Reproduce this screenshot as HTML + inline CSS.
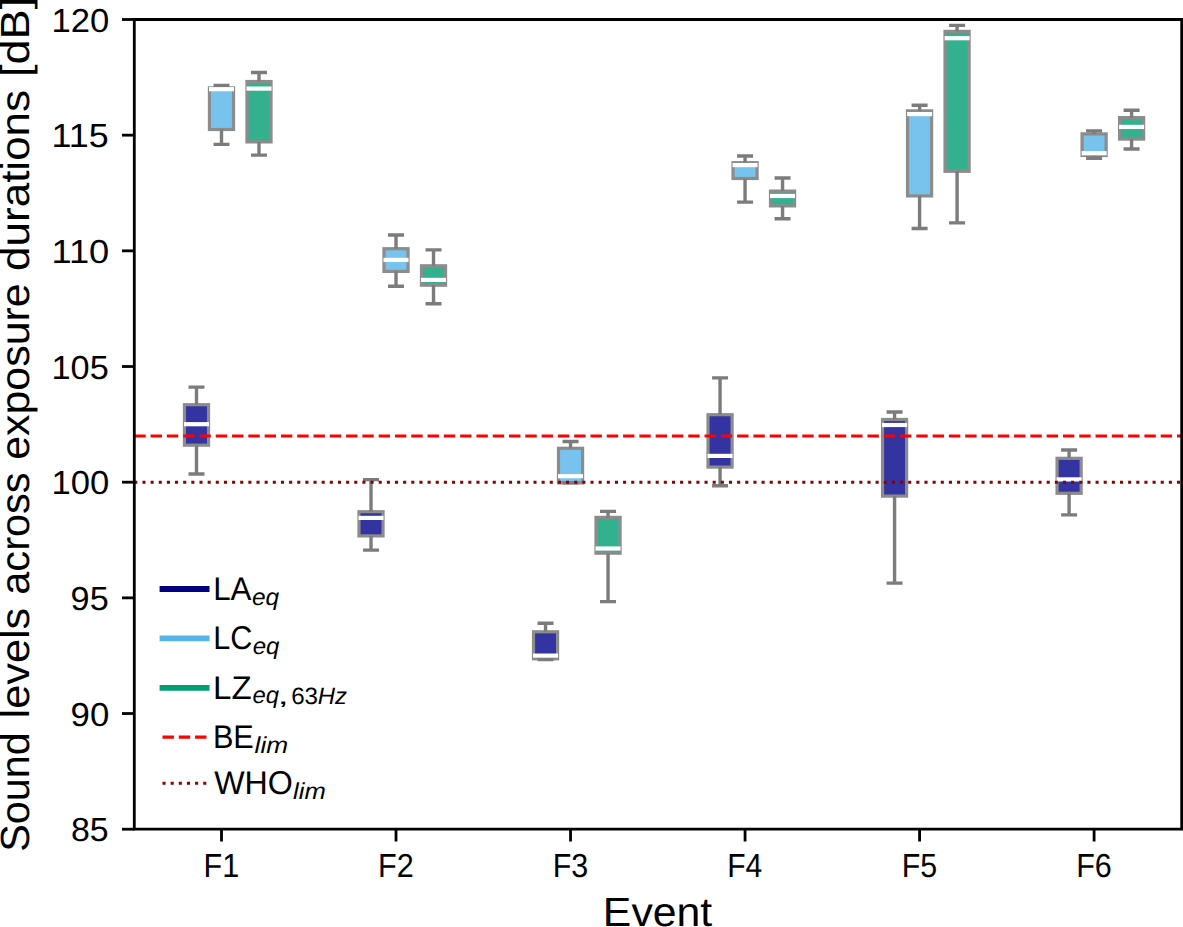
<!DOCTYPE html>
<html><head><meta charset="utf-8"><style>
html,body{margin:0;padding:0;background:#fff;width:1183px;height:927px;overflow:hidden}
svg{display:block}
text{font-family:"Liberation Sans", sans-serif;text-rendering:geometricPrecision}
</style></head><body>
<svg width="1183" height="927" viewBox="0 0 1183 927">
<rect width="1183" height="927" fill="#fff"/>
<rect x="184.45" y="404.7" width="24.1" height="40.5" fill="#3333a2" stroke="#8c8c8c" stroke-width="3.2"/>
<path d="M196.5 404.7V387.1M196.5 445.2V474" stroke="#7c7c7c" stroke-width="3.4" fill="none"/>
<path d="M188.5 387.1H204.5M188.5 474H204.5" stroke="#7c7c7c" stroke-width="3.4" fill="none"/>
<rect x="184" y="422.1" width="25" height="4.2" fill="#fff"/>
<rect x="209.45" y="87.9" width="24.1" height="41.6" fill="#78c3ed" stroke="#8c8c8c" stroke-width="3.2"/>
<path d="M221.5 87.9V85.5M221.5 129.5V144.4" stroke="#7c7c7c" stroke-width="3.4" fill="none"/>
<path d="M213.5 85.5H229.5M213.5 144.4H229.5" stroke="#7c7c7c" stroke-width="3.4" fill="none"/>
<rect x="209" y="87.1" width="25" height="4.2" fill="#fff"/>
<rect x="246.95" y="81.5" width="24.1" height="60.4" fill="#33b18f" stroke="#8c8c8c" stroke-width="3.2"/>
<path d="M259 81.5V72.5M259 141.9V155.1" stroke="#7c7c7c" stroke-width="3.4" fill="none"/>
<path d="M251 72.5H267M251 155.1H267" stroke="#7c7c7c" stroke-width="3.4" fill="none"/>
<rect x="246.5" y="86.5" width="25" height="4.2" fill="#fff"/>
<rect x="358.97" y="511.7" width="24.1" height="24.2" fill="#3333a2" stroke="#8c8c8c" stroke-width="3.2"/>
<path d="M371.02 511.7V479.6M371.02 535.9V550.1" stroke="#7c7c7c" stroke-width="3.4" fill="none"/>
<path d="M363.02 479.6H379.02M363.02 550.1H379.02" stroke="#7c7c7c" stroke-width="3.4" fill="none"/>
<rect x="358.52" y="515.8" width="25" height="4.2" fill="#fff"/>
<rect x="383.97" y="248.7" width="24.1" height="22.7" fill="#78c3ed" stroke="#8c8c8c" stroke-width="3.2"/>
<path d="M396.02 248.7V235M396.02 271.4V286.2" stroke="#7c7c7c" stroke-width="3.4" fill="none"/>
<path d="M388.02 235H404.02M388.02 286.2H404.02" stroke="#7c7c7c" stroke-width="3.4" fill="none"/>
<rect x="383.52" y="257.8" width="25" height="4.2" fill="#fff"/>
<rect x="421.47" y="265.8" width="24.1" height="19.4" fill="#33b18f" stroke="#8c8c8c" stroke-width="3.2"/>
<path d="M433.52 265.8V249.9M433.52 285.2V303.7" stroke="#7c7c7c" stroke-width="3.4" fill="none"/>
<path d="M425.52 249.9H441.52M425.52 303.7H441.52" stroke="#7c7c7c" stroke-width="3.4" fill="none"/>
<rect x="421.02" y="277.8" width="25" height="4.2" fill="#fff"/>
<rect x="533.49" y="631.8" width="24.1" height="27" fill="#3333a2" stroke="#8c8c8c" stroke-width="3.2"/>
<path d="M545.54 631.8V623.2M545.54 658.8V659.5" stroke="#7c7c7c" stroke-width="3.4" fill="none"/>
<path d="M537.54 623.2H553.54M537.54 659.5H553.54" stroke="#7c7c7c" stroke-width="3.4" fill="none"/>
<rect x="533.04" y="653.5" width="25" height="4.2" fill="#fff"/>
<rect x="558.49" y="448.3" width="24.1" height="34.6" fill="#78c3ed" stroke="#8c8c8c" stroke-width="3.2"/>
<path d="M570.54 448.3V441.5M570.54 482.9V482.9" stroke="#7c7c7c" stroke-width="3.4" fill="none"/>
<path d="M562.54 441.5H578.54M562.54 482.9H578.54" stroke="#7c7c7c" stroke-width="3.4" fill="none"/>
<rect x="558.04" y="474.1" width="25" height="4.2" fill="#fff"/>
<rect x="595.99" y="517.4" width="24.1" height="35.8" fill="#33b18f" stroke="#8c8c8c" stroke-width="3.2"/>
<path d="M608.04 517.4V511.4M608.04 553.2V601.6" stroke="#7c7c7c" stroke-width="3.4" fill="none"/>
<path d="M600.04 511.4H616.04M600.04 601.6H616.04" stroke="#7c7c7c" stroke-width="3.4" fill="none"/>
<rect x="595.54" y="546.4" width="25" height="4.2" fill="#fff"/>
<rect x="708.01" y="414.7" width="24.1" height="52.4" fill="#3333a2" stroke="#8c8c8c" stroke-width="3.2"/>
<path d="M720.06 414.7V377.9M720.06 467.1V485.7" stroke="#7c7c7c" stroke-width="3.4" fill="none"/>
<path d="M712.06 377.9H728.06M712.06 485.7H728.06" stroke="#7c7c7c" stroke-width="3.4" fill="none"/>
<rect x="707.56" y="453.8" width="25" height="4.2" fill="#fff"/>
<rect x="733.01" y="162.7" width="24.1" height="15.8" fill="#78c3ed" stroke="#8c8c8c" stroke-width="3.2"/>
<path d="M745.06 162.7V156M745.06 178.5V202.1" stroke="#7c7c7c" stroke-width="3.4" fill="none"/>
<path d="M737.06 156H753.06M737.06 202.1H753.06" stroke="#7c7c7c" stroke-width="3.4" fill="none"/>
<rect x="732.56" y="163" width="25" height="4.2" fill="#fff"/>
<rect x="770.51" y="191.1" width="24.1" height="14.8" fill="#33b18f" stroke="#8c8c8c" stroke-width="3.2"/>
<path d="M782.56 191.1V178M782.56 205.9V218.8" stroke="#7c7c7c" stroke-width="3.4" fill="none"/>
<path d="M774.56 178H790.56M774.56 218.8H790.56" stroke="#7c7c7c" stroke-width="3.4" fill="none"/>
<rect x="770.06" y="193.9" width="25" height="4.2" fill="#fff"/>
<rect x="882.53" y="419.5" width="24.1" height="76.6" fill="#3333a2" stroke="#8c8c8c" stroke-width="3.2"/>
<path d="M894.58 419.5V412M894.58 496.1V583.1" stroke="#7c7c7c" stroke-width="3.4" fill="none"/>
<path d="M886.58 412H902.58M886.58 583.1H902.58" stroke="#7c7c7c" stroke-width="3.4" fill="none"/>
<rect x="882.08" y="422.9" width="25" height="4.2" fill="#fff"/>
<rect x="907.53" y="110.9" width="24.1" height="85" fill="#78c3ed" stroke="#8c8c8c" stroke-width="3.2"/>
<path d="M919.58 110.9V105.2M919.58 195.9V228.5" stroke="#7c7c7c" stroke-width="3.4" fill="none"/>
<path d="M911.58 105.2H927.58M911.58 228.5H927.58" stroke="#7c7c7c" stroke-width="3.4" fill="none"/>
<rect x="907.08" y="112" width="25" height="4.2" fill="#fff"/>
<rect x="945.03" y="31.4" width="24.1" height="139.9" fill="#33b18f" stroke="#8c8c8c" stroke-width="3.2"/>
<path d="M957.08 31.4V25.4M957.08 171.3V222.9" stroke="#7c7c7c" stroke-width="3.4" fill="none"/>
<path d="M949.08 25.4H965.08M949.08 222.9H965.08" stroke="#7c7c7c" stroke-width="3.4" fill="none"/>
<rect x="944.58" y="36.1" width="25" height="4.2" fill="#fff"/>
<rect x="1057.05" y="458.3" width="24.1" height="35" fill="#3333a2" stroke="#8c8c8c" stroke-width="3.2"/>
<path d="M1069.1 458.3V450M1069.1 493.3V514.9" stroke="#7c7c7c" stroke-width="3.4" fill="none"/>
<path d="M1061.1 450H1077.1M1061.1 514.9H1077.1" stroke="#7c7c7c" stroke-width="3.4" fill="none"/>
<rect x="1056.6" y="477.3" width="25" height="4.2" fill="#fff"/>
<rect x="1082.05" y="133.9" width="24.1" height="21.6" fill="#78c3ed" stroke="#8c8c8c" stroke-width="3.2"/>
<path d="M1094.1 133.9V130.9M1094.1 155.5V158.3" stroke="#7c7c7c" stroke-width="3.4" fill="none"/>
<path d="M1086.1 130.9H1102.1M1086.1 158.3H1102.1" stroke="#7c7c7c" stroke-width="3.4" fill="none"/>
<rect x="1081.6" y="151.1" width="25" height="4.2" fill="#fff"/>
<rect x="1119.55" y="117.6" width="24.1" height="21.5" fill="#33b18f" stroke="#8c8c8c" stroke-width="3.2"/>
<path d="M1131.6 117.6V110.2M1131.6 139.1V149" stroke="#7c7c7c" stroke-width="3.4" fill="none"/>
<path d="M1123.6 110.2H1139.6M1123.6 149H1139.6" stroke="#7c7c7c" stroke-width="3.4" fill="none"/>
<rect x="1119.1" y="124.8" width="25" height="4.2" fill="#fff"/>
<path d="M134.3 435.92H1181.7" stroke="#ff0000" stroke-width="3.074" stroke-dasharray="11.3738 4.9184" fill="none"/>
<path d="M134.3 482.19H1181.7" stroke="#8b0000" stroke-width="3.074" stroke-dasharray="3.0740 5.0721" fill="none"/>
<path d="M134.3 829.2V19.5M132.9 829.2H1183.1M132.9 19.5H1183.1M1181.7 829.2V19.5" stroke="#000" stroke-width="2.8" fill="none"/>
<path d="M122 829.2H134.3" stroke="#000" stroke-width="2.8"/>
<path d="M122 713.53H134.3" stroke="#000" stroke-width="2.8"/>
<path d="M122 597.86H134.3" stroke="#000" stroke-width="2.8"/>
<path d="M122 482.19H134.3" stroke="#000" stroke-width="2.8"/>
<path d="M122 366.51H134.3" stroke="#000" stroke-width="2.8"/>
<path d="M122 250.84H134.3" stroke="#000" stroke-width="2.8"/>
<path d="M122 135.17H134.3" stroke="#000" stroke-width="2.8"/>
<path d="M122 19.5H134.3" stroke="#000" stroke-width="2.8"/>
<path d="M221.5 829.2V841.5" stroke="#000" stroke-width="2.8"/>
<path d="M396.02 829.2V841.5" stroke="#000" stroke-width="2.8"/>
<path d="M570.54 829.2V841.5" stroke="#000" stroke-width="2.8"/>
<path d="M745.06 829.2V841.5" stroke="#000" stroke-width="2.8"/>
<path d="M919.58 829.2V841.5" stroke="#000" stroke-width="2.8"/>
<path d="M1094.1 829.2V841.5" stroke="#000" stroke-width="2.8"/>
<text x="71.03" y="841.2" font-size="33.3" textLength="37.7" lengthAdjust="spacingAndGlyphs" style="" fill="#000" >85</text>
<text x="70.57" y="725.53" font-size="33.3" textLength="38.69" lengthAdjust="spacingAndGlyphs" style="" fill="#000" >90</text>
<text x="70.59" y="609.86" font-size="33.3" textLength="38.15" lengthAdjust="spacingAndGlyphs" style="" fill="#000" >95</text>
<text x="51.46" y="494.19" font-size="33.3" textLength="57.79" lengthAdjust="spacingAndGlyphs" style="" fill="#000" >100</text>
<text x="51.49" y="378.51" font-size="33.3" textLength="57.25" lengthAdjust="spacingAndGlyphs" style="" fill="#000" >105</text>
<text x="51.46" y="262.84" font-size="33.3" textLength="57.79" lengthAdjust="spacingAndGlyphs" style="" fill="#000" >110</text>
<text x="51.49" y="147.17" font-size="33.3" textLength="57.25" lengthAdjust="spacingAndGlyphs" style="" fill="#000" >115</text>
<text x="51.46" y="31.5" font-size="33.3" textLength="57.79" lengthAdjust="spacingAndGlyphs" style="" fill="#000" >120</text>
<text x="203.59" y="876.8" font-size="33.3" textLength="35.7" lengthAdjust="spacingAndGlyphs" style="" fill="#000" >F1</text>
<text x="378.11" y="876.8" font-size="33.3" textLength="35.75" lengthAdjust="spacingAndGlyphs" style="" fill="#000" >F2</text>
<text x="552.64" y="876.8" font-size="33.3" textLength="35.54" lengthAdjust="spacingAndGlyphs" style="" fill="#000" >F3</text>
<text x="727.2" y="876.8" font-size="33.3" textLength="35.04" lengthAdjust="spacingAndGlyphs" style="" fill="#000" >F4</text>
<text x="901.69" y="876.8" font-size="33.3" textLength="35.47" lengthAdjust="spacingAndGlyphs" style="" fill="#000" >F5</text>
<text x="1076.2" y="876.8" font-size="33.3" textLength="35.54" lengthAdjust="spacingAndGlyphs" style="" fill="#000" >F6</text>
<text x="602.89" y="926.4" font-size="40.8" textLength="109.32" lengthAdjust="spacingAndGlyphs" style="" fill="#000" >Event</text>
<g transform="rotate(-90)"><text x="-851.88" y="29.2" font-size="40.7" textLength="119.54" lengthAdjust="spacingAndGlyphs" style="" fill="#000" >Sound</text><text x="-718.41" y="29.2" font-size="40.7" textLength="110.58" lengthAdjust="spacingAndGlyphs" style="" fill="#000" >levels</text><text x="-594.76" y="29.2" font-size="40.7" textLength="122.37" lengthAdjust="spacingAndGlyphs" style="" fill="#000" >across</text><text x="-459.82" y="29.2" font-size="40.7" textLength="176.53" lengthAdjust="spacingAndGlyphs" style="" fill="#000" >exposure</text><text x="-270.95" y="29.2" font-size="40.7" textLength="181.04" lengthAdjust="spacingAndGlyphs" style="" fill="#000" >durations</text><text x="-77.02" y="29.2" font-size="40.7" textLength="80.23" lengthAdjust="spacingAndGlyphs" style="" fill="#000" >[dB]</text></g>
<path d="M162.5 589H206.6" stroke="#000080" stroke-width="5.8" stroke-linecap="square" fill="none"/>
<path d="M162.5 638.4H206.6" stroke="#56b4e9" stroke-width="5.8" stroke-linecap="square" fill="none"/>
<path d="M162.5 687.8H206.6" stroke="#009e73" stroke-width="5.8" stroke-linecap="square" fill="none"/>
<path d="M162.5 737.1H206.6" stroke="#ff0000" stroke-width="3.074" stroke-dasharray="11.3738 4.9184" fill="none"/>
<path d="M162.5 783.2H206.6" stroke="#8b0000" stroke-width="3.074" stroke-dasharray="3.0740 5.0721" fill="none"/>
<text x="213.13" y="600.1" font-size="32.8" textLength="38.33" lengthAdjust="spacingAndGlyphs" style="" fill="#000" >LA</text>
<text x="251.98" y="605.1" font-size="23.5" textLength="27.19" lengthAdjust="spacingAndGlyphs" style="font-style:italic;" fill="#000" >eq</text>
<text x="213.19" y="649.1" font-size="32.8" textLength="39.07" lengthAdjust="spacingAndGlyphs" style="" fill="#000" >LC</text>
<text x="252.69" y="654.3" font-size="23.5" textLength="26.78" lengthAdjust="spacingAndGlyphs" style="font-style:italic;" fill="#000" >eq</text>
<text x="213.09" y="698.6" font-size="32.8" textLength="38.54" lengthAdjust="spacingAndGlyphs" style="" fill="#000" >LZ</text>
<text x="252.5" y="703.4" font-size="23.5" textLength="26.57" lengthAdjust="spacingAndGlyphs" style="font-style:italic;" fill="#000" >eq</text>
<text x="277.54" y="703.6" font-size="23.5" textLength="11.32" lengthAdjust="spacingAndGlyphs" style="" fill="#000" >,</text>
<text x="291.17" y="703.7" font-size="23.5" textLength="26.89" lengthAdjust="spacingAndGlyphs" style="" fill="#000" >63</text>
<text x="317.76" y="703.6" font-size="23.5" textLength="29.26" lengthAdjust="spacingAndGlyphs" style="font-style:italic;" fill="#000" >Hz</text>
<text x="212.88" y="748" font-size="32.8" textLength="40.94" lengthAdjust="spacingAndGlyphs" style="" fill="#000" >BE</text>
<text x="254.58" y="753.2" font-size="23.2" textLength="33.54" lengthAdjust="spacingAndGlyphs" style="font-style:italic;" fill="#000" >lim</text>
<text x="214.16" y="793.9" font-size="32.8" textLength="78.68" lengthAdjust="spacingAndGlyphs" style="" fill="#000" >WHO</text>
<text x="293.09" y="799.1" font-size="23.2" textLength="32.7" lengthAdjust="spacingAndGlyphs" style="font-style:italic;" fill="#000" >lim</text>
</svg>
</body></html>
